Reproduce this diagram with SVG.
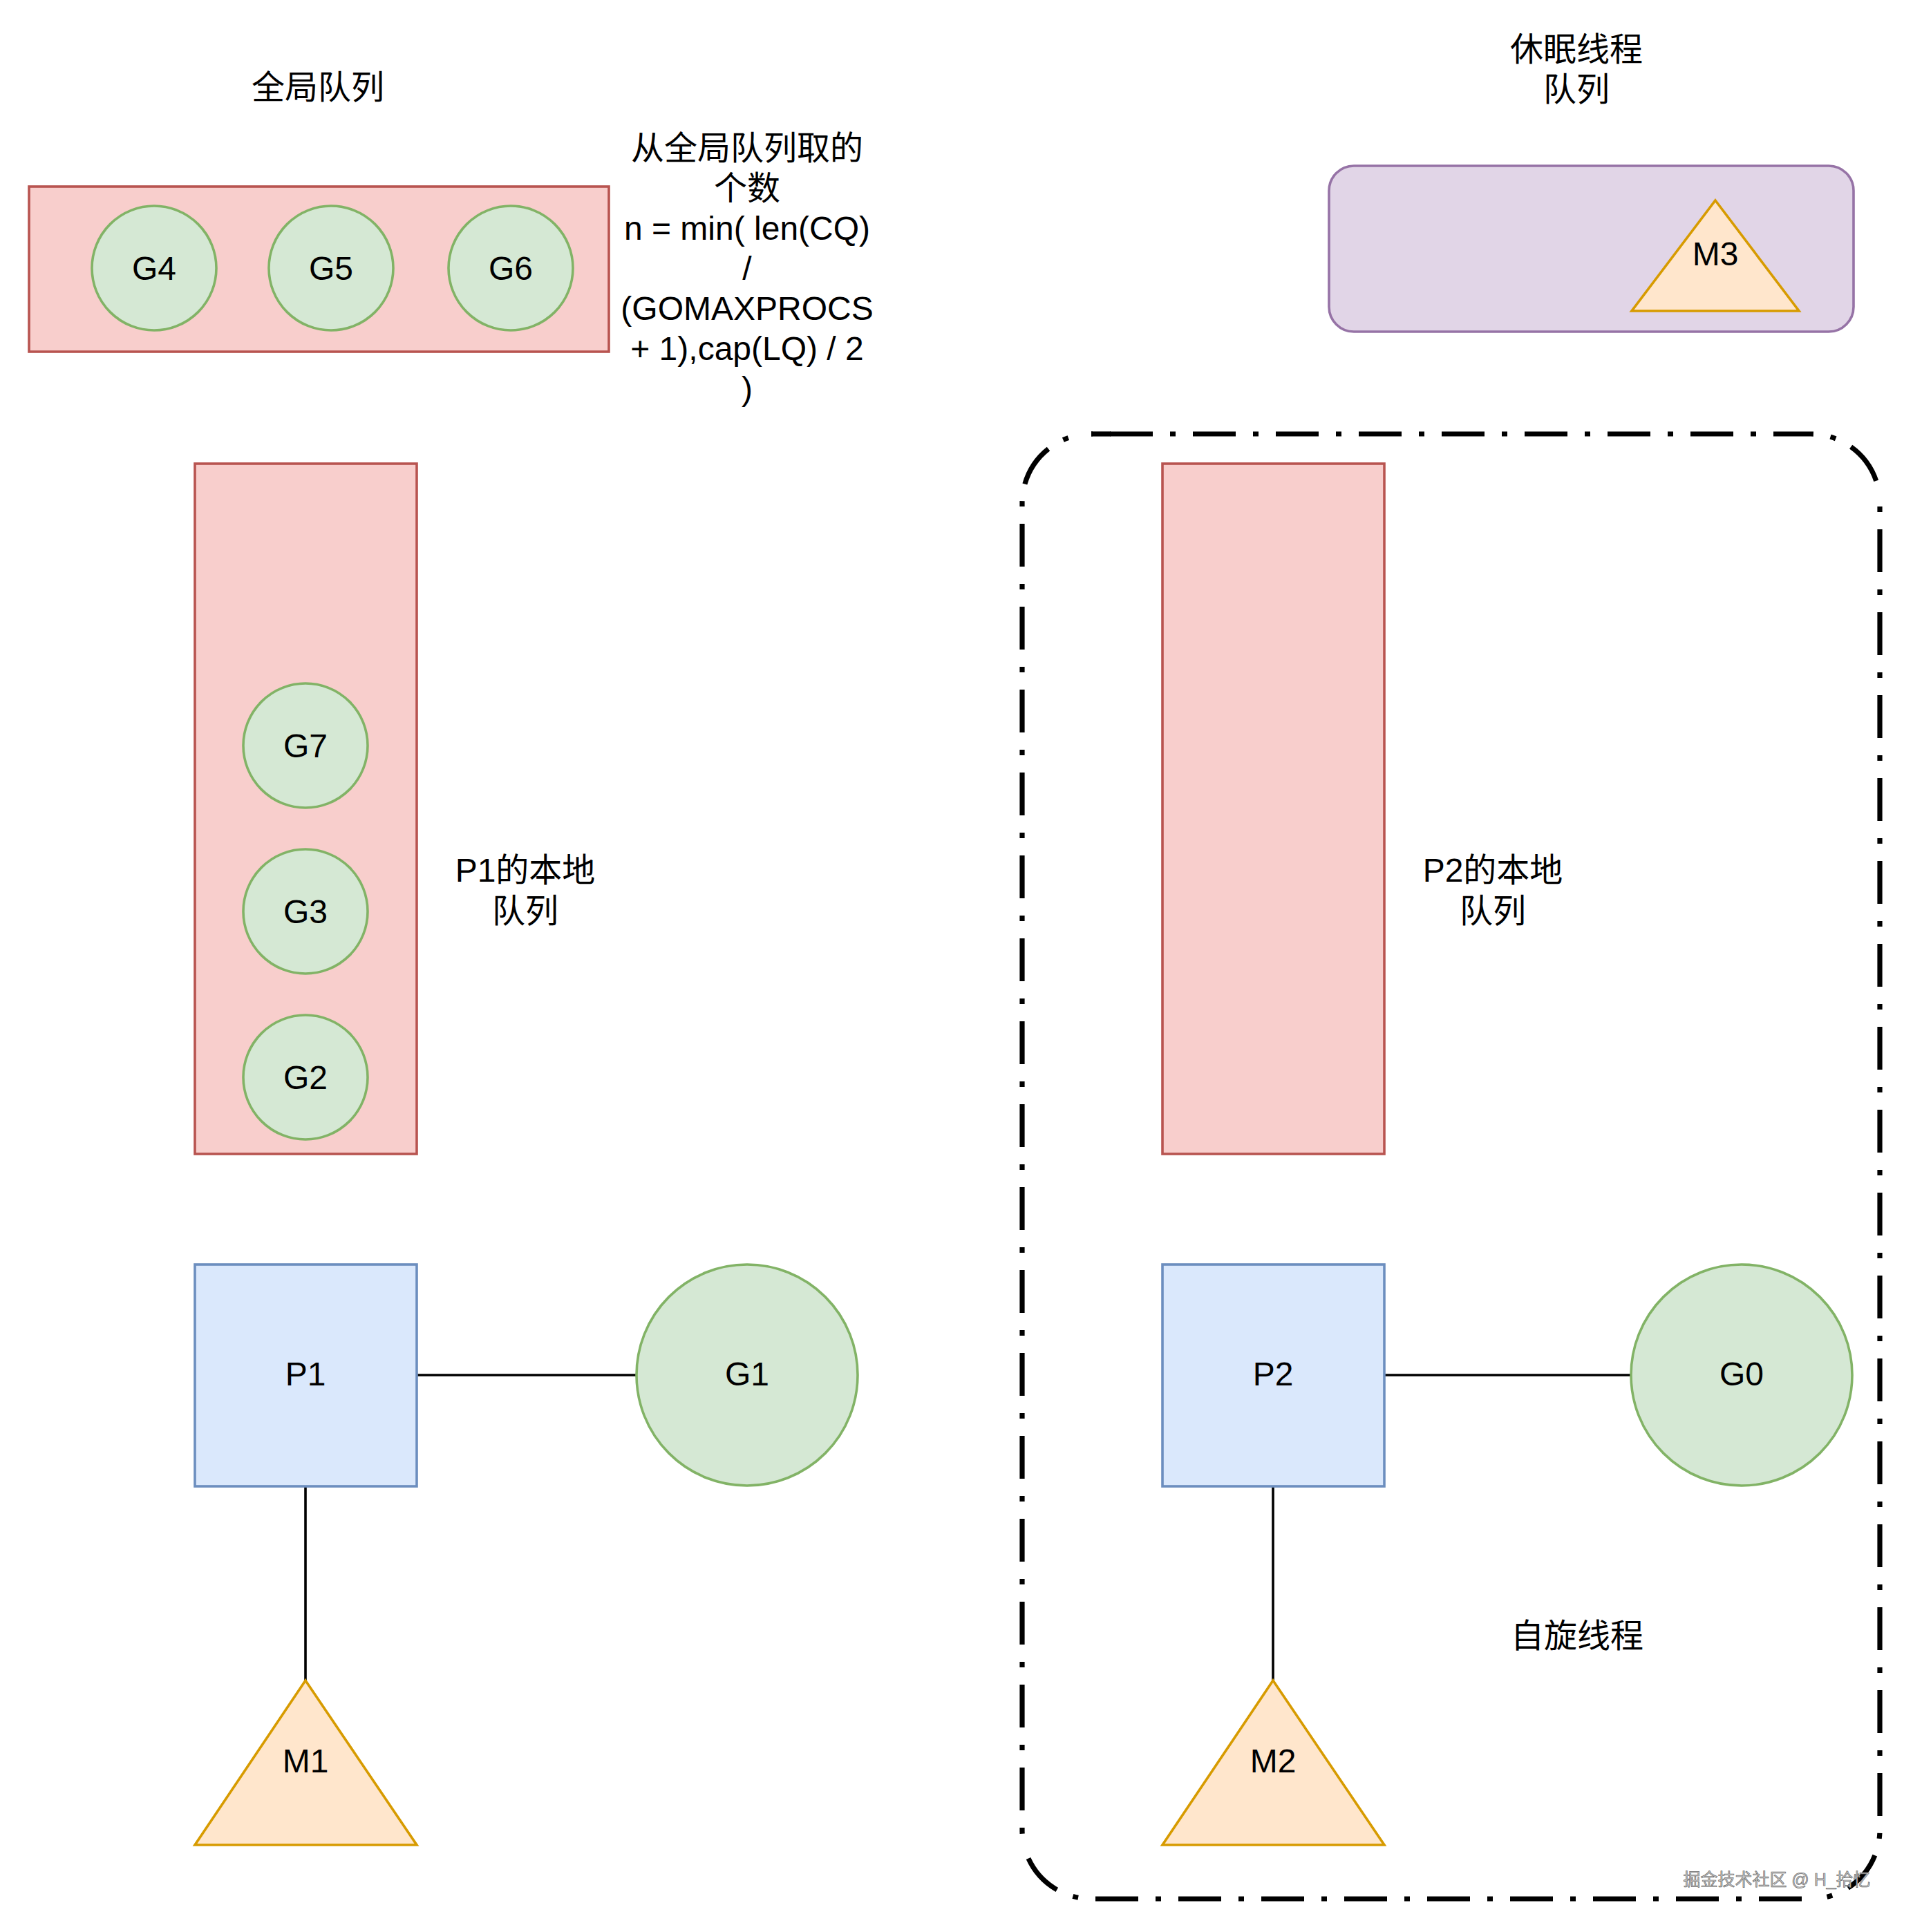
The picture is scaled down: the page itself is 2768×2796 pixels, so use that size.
<svg xmlns="http://www.w3.org/2000/svg" width="2768" height="2796" viewBox="0 0 2768 2796">
<style>
text{font-family:"Liberation Sans","Noto Sans CJK SC",Arial,sans-serif;font-size:48px;fill:#000;text-anchor:middle;dominant-baseline:central}
.q{fill:#f8cecc;stroke:#b85450;stroke-width:3.6}
.g{fill:#d5e8d4;stroke:#82b366;stroke-width:3.6}
.p{fill:#dae8fc;stroke:#6c8ebf;stroke-width:3.6}
.m{fill:#ffe6cc;stroke:#d79b00;stroke-width:3.6}
.s{fill:#e1d5e7;stroke:#9673a6;stroke-width:3.6}
.e{stroke:#000;stroke-width:3.6;fill:none}
.d{fill:none;stroke:#000;stroke-width:7.2;stroke-dasharray:62 25 8 25}
.wm{font-size:25px;fill:#c8c8c8;stroke:#6a6a6a;stroke-width:0.7}
</style>
<rect width="2768" height="2796" fill="#fff"/>
<g id="spin-group">
<path class="d" d="M1579,628 H2620" stroke-dashoffset="93"/>
<path d="M1579,628 H1607" fill="none" stroke="#000" stroke-width="7.2"/>
<path class="d" d="M2720,728 V2648" stroke-dashoffset="82"/>
<path class="d" d="M2620,2748 H1579" stroke-dashoffset="107"/>
<path class="d" d="M1479,2648 V728" stroke-dashoffset="92"/>
<path d="M2620,628 A100,100 0 0 1 2720,728" fill="none" stroke="#000" stroke-width="7.2" stroke-dasharray="4 25 8 25 62 200"/>
<path d="M2720,2648 A100,100 0 0 1 2620,2748" fill="none" stroke="#000" stroke-width="7.2" stroke-dasharray="0 5 8 25 62 25 8 200"/>
<path d="M1579,2748 A100,100 0 0 1 1479,2648" fill="none" stroke="#000" stroke-width="7.2" stroke-dasharray="0 19 8 25 62 37 6 50"/>
<path d="M1479,728 A100,100 0 0 1 1579,628" fill="none" stroke="#000" stroke-width="7.2" stroke-dasharray="3 25 62 25 8 100"/>
</g>
<g id="global-label"><text x="460" y="126">全局队列</text></g>
<g id="global-queue"><rect class="q" x="42" y="270" width="839" height="239"/></g>
<g id="G4"><circle class="g" cx="223" cy="388" r="90"/><text x="223" y="388">G4</text></g>
<g id="G5"><circle class="g" cx="479" cy="388" r="90"/><text x="479" y="388">G5</text></g>
<g id="G6"><circle class="g" cx="739" cy="388" r="90"/><text x="739" y="388">G6</text></g>
<g id="formula">
<text x="1081" y="214">从全局队列取的</text>
<text x="1081" y="272">个数</text>
<text x="1081" y="330">n = min( len(CQ)</text>
<text x="1081" y="388">/</text>
<text x="1081" y="446">(GOMAXPROCS</text>
<text x="1081" y="504">+ 1),cap(LQ) / 2</text>
<text x="1081" y="562">)</text>
</g>
<g id="sleep-label"><text x="2281" y="71">休眠线程</text><text x="2281" y="129">队列</text></g>
<g id="sleep-queue"><rect class="s" x="1923" y="240" width="759" height="240" rx="36" ry="36"/></g>
<g id="M3"><polygon class="m" points="2482,290 2603,450 2361,450"/><text x="2482" y="367">M3</text></g>
<g id="P1-local"><rect class="q" x="282" y="671" width="321" height="999"/></g>
<g id="G7"><circle class="g" cx="442" cy="1079" r="90"/><text x="442" y="1079">G7</text></g>
<g id="G3"><circle class="g" cx="442" cy="1319" r="90"/><text x="442" y="1319">G3</text></g>
<g id="G2"><circle class="g" cx="442" cy="1559" r="90"/><text x="442" y="1559">G2</text></g>
<g id="P1-local-label"><text x="760" y="1259">P1的本地</text><text x="760" y="1318">队列</text></g>
<g id="P2-local"><rect class="q" x="1682" y="671" width="321" height="999"/></g>
<g id="P2-local-label"><text x="2160" y="1259">P2的本地</text><text x="2160" y="1318">队列</text></g>
<g id="connectors">
<line class="e" x1="603" y1="1990" x2="921" y2="1990"/>
<line class="e" x1="442" y1="2151" x2="442" y2="2432"/>
<line class="e" x1="2003" y1="1990" x2="2360" y2="1990"/>
<line class="e" x1="1842" y1="2151" x2="1842" y2="2432"/>
</g>
<g id="P1"><rect class="p" x="282" y="1830" width="321" height="321"/><text x="442" y="1988">P1</text></g>
<g id="G1"><circle class="g" cx="1081" cy="1990" r="160"/><text x="1081" y="1988">G1</text></g>
<g id="M1"><polygon class="m" points="442,2432 603,2670 282,2670"/><text x="442" y="2548">M1</text></g>
<g id="P2"><rect class="p" x="1682" y="1830" width="321" height="321"/><text x="1842" y="1988">P2</text></g>
<g id="G0"><circle class="g" cx="2520" cy="1990" r="160"/><text x="2520" y="1988">G0</text></g>
<g id="M2"><polygon class="m" points="1842,2432 2003,2670 1682,2670"/><text x="1842" y="2548">M2</text></g>
<g id="spin-label"><text x="2282" y="2367">自旋线程</text></g>
<g id="watermark"><text class="wm" x="2571" y="2720">掘金技术社区 @ H_拾忆</text></g>
</svg>
